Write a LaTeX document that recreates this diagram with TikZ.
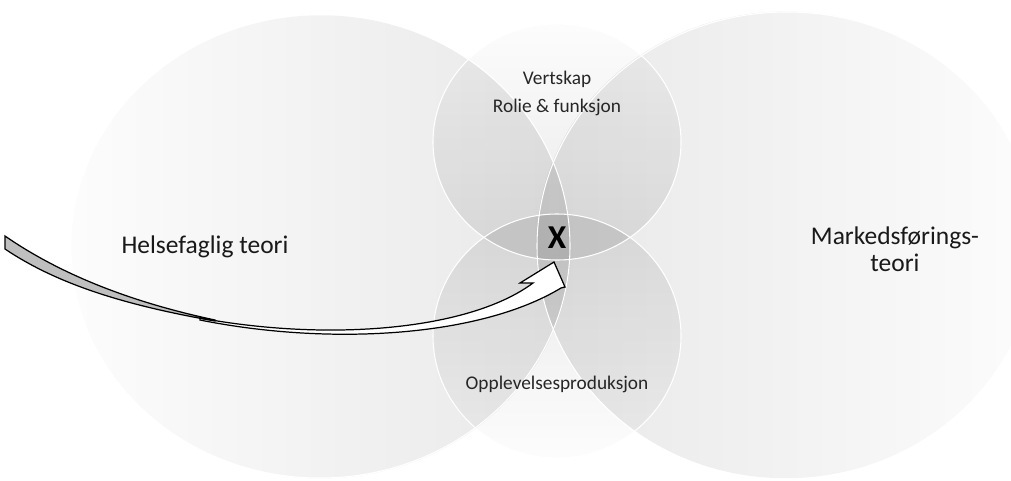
\documentclass[tikz,border=0pt]{standalone}
\usepackage{fontspec}
\setmainfont{Carlito}
\usetikzlibrary{positioning,fadings}
\tikzfading[name=venngrad,top color=transparent!88,bottom color=transparent!0]
\tikzset{
  venn/.style={fill=black,fill opacity=.09,path fading=venngrad,fading angle=#1},
  vennline/.style={draw=white,line width=.6pt},
  smalltext/.style={font=\fontsize{11}{13}\selectfont,text=black!85},
  bigtext/.style={font=\fontsize{14.5}{15.5}\selectfont,align=center,text=black!90},
}
\begin{document}
\begin{tikzpicture}[x=.2mm,y=-.2mm]
\useasboundingbox (0,0) rectangle (1011,481);
\fill[white] (0,0) rectangle (1011,481);
\clip (0,0) rectangle (1011,481);
\fill[venn=90] (320,246) ellipse[x radius=250,y radius=232];
\fill[venn=-90] (787,246) ellipse[x radius=250,y radius=234];
\fill[venn=0] (557,142) ellipse[x radius=124,y radius=118];
\fill[venn=180] (557,336) ellipse[x radius=124,y radius=122];
\draw[vennline] (320,246) ellipse[x radius=250,y radius=232];
\draw[vennline] (787,246) ellipse[x radius=250,y radius=234];
\draw[vennline] (557,142) ellipse[x radius=124,y radius=118];
\draw[vennline] (557,336) ellipse[x radius=124,y radius=122];
\node[smalltext,anchor=base] (vert) at (557,84) {Vertskap};
\node[smalltext,anchor=base] (rolle) at (557,112) {Rolie \& funksjon};
\node[smalltext,anchor=base] (opp) at (557,389) {Opplevelsesproduksjon};
\node[bigtext,anchor=base] (helse) at (205,253) {Helsefaglig teori};
\node[bigtext] (mark) at (895,249) {Markedsførings-\\teori};
\node[font=\fontsize{19}{22}\selectfont\bfseries] (x) at (557,238) {X};
\coordinate (start) at (5,243);
\coordinate (tip) at (554,262);
\draw[fill=white,line width=.7pt] (200,318) .. controls (330,342) and (470,330) .. (533,283)
  -- (520,283) -- (tip) -- (565,287) -- (561,288)
  .. controls (480,337) and (330,346) .. (200,320) -- cycle;
\draw[fill=black!25,line width=.7pt] (5,236) .. controls (60,274) and (130,302) .. (215,320)
  -- (215,321) .. controls (130,306) and (60,286) .. (5,249) -- cycle;
\end{tikzpicture}
\end{document}
